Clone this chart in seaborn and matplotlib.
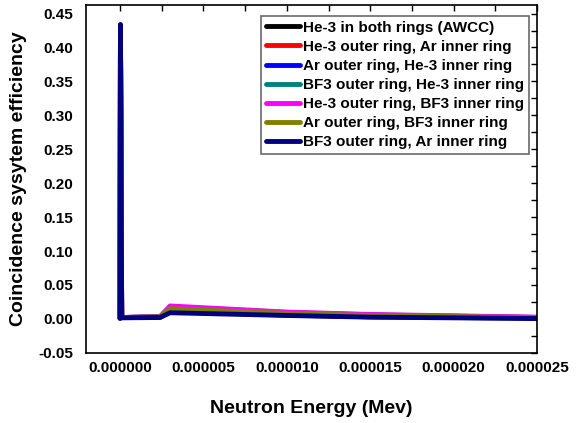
import numpy as np
import pandas as pd
import matplotlib
matplotlib.use("Agg")
import matplotlib.pyplot as plt
import seaborn as sns
from matplotlib.ticker import MultipleLocator, FormatStrFormatter

energy = [1e-9, 2.5e-8, 1e-7, 2.4e-6, 3.0e-6, 1.0e-5, 1.5e-5, 2.0e-5, 2.5e-5]

series_names = [
    "He-3 in both rings (AWCC)",
    "He-3 outer ring, Ar inner ring",
    "Ar outer ring, He-3 inner ring",
    "BF3 outer ring, He-3 inner ring",
    "He-3 outer ring, BF3 inner ring",
    "Ar outer ring, BF3 inner ring",
    "BF3 outer ring, Ar inner ring",
]

he3_both = [0.001, 0.433, 0.002, 0.0025, 0.011, 0.0055, 0.0030, 0.0020, 0.0010]
he3_out_ar_in = [0.001, 0.425, 0.002, 0.0030, 0.017, 0.0090, 0.0055, 0.0038, 0.0020]
ar_out_he3_in = [0.001, 0.420, 0.002, 0.0028, 0.014, 0.0070, 0.0042, 0.0028, 0.0015]
bf3_out_he3_in = [0.001, 0.428, 0.002, 0.0030, 0.018, 0.0095, 0.0060, 0.0040, 0.0022]
he3_out_bf3_in = [0.001, 0.430, 0.002, 0.0030, 0.019, 0.0100, 0.0065, 0.0045, 0.0025]
ar_out_bf3_in = [0.001, 0.422, 0.002, 0.0028, 0.015, 0.0080, 0.0050, 0.0033, 0.0018]
bf3_out_ar_in = [0.001, 0.434, 0.0015, 0.0020, 0.009, 0.0050, 0.0025, 0.0015, 0.0005]

all_values = [he3_both, he3_out_ar_in, ar_out_he3_in, bf3_out_he3_in,
              he3_out_bf3_in, ar_out_bf3_in, bf3_out_ar_in]
colors = ["#000000", "#ff0000", "#0000ff", "#008080", "#ff00ff", "#808000", "#000080"]

rows = []
for name, vals in zip(series_names, all_values):
    for e, v in zip(energy, vals):
        rows.append({"energy": e, "eff": v, "config": name})
df = pd.DataFrame(rows)

sns.set_style("white")
plt.rcParams["font.family"] = ["Liberation Sans", "DejaVu Sans"]
plt.rcParams["font.weight"] = "bold"
plt.rcParams["text.color"] = "black"
plt.rcParams["axes.labelcolor"] = "black"
plt.rcParams["xtick.color"] = "black"
plt.rcParams["ytick.color"] = "black"

fig = plt.figure(figsize=(5.8, 4.23), dpi=100)
ax = fig.add_axes([0.148, 0.166, 0.778, 0.822])

sns.lineplot(data=df, x="energy", y="eff", hue="config", hue_order=series_names,
             palette=colors, linewidth=3.5, ax=ax, sort=False, estimator=None)

ax.set_xlim(-2.05e-6, 2.5e-5)
ax.set_ylim(-0.05, 0.4625)
ax.xaxis.set_major_locator(MultipleLocator(5e-6))
ax.xaxis.set_minor_locator(MultipleLocator(2.5e-6))
ax.yaxis.set_major_locator(MultipleLocator(0.05))
ax.yaxis.set_minor_locator(MultipleLocator(0.025))
ax.xaxis.set_major_formatter(FormatStrFormatter("%.6f"))
ax.yaxis.set_major_formatter(FormatStrFormatter("%.2f"))
ax.tick_params(which="both", direction="in", top=True, right=True,
               length=4, width=1, labelsize=11, colors="black")
ax.tick_params(axis="x", pad=6)
ax.tick_params(axis="y", pad=9)
for lab in ax.get_xticklabels() + ax.get_yticklabels():
    lab.set_fontweight("bold")
for s in ax.spines.values():
    s.set_linewidth(1.2)
    s.set_color("black")

ax.set_xlabel("Neutron Energy (Mev)", fontsize=14, fontweight="bold", labelpad=18, color="black")
ax.set_ylabel("Coincidence sysytem efficiency", fontsize=14, fontweight="bold", labelpad=8, color="black")

leg = ax.legend(loc="upper right", bbox_to_anchor=(0.982, 0.968),
                frameon=True, fancybox=False, shadow=False, handlelength=2.2,
                handletextpad=0.25, labelspacing=0.33, borderpad=0.3,
                borderaxespad=0.0, prop={"weight": "bold", "size": 11})
leg.get_frame().set_edgecolor("#444444")
leg.get_frame().set_linewidth(1.2)
for line in leg.get_lines():
    line.set_linewidth(3.5)
for t in leg.get_texts():
    t.set_color("black")

fig.savefig("out.png", dpi=100)
